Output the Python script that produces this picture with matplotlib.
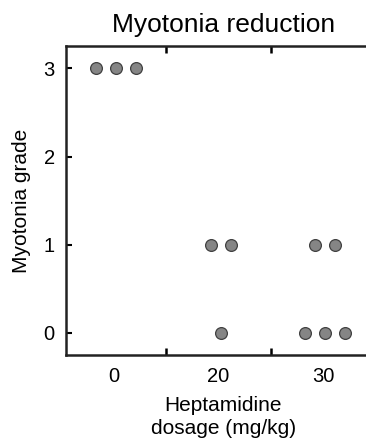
import matplotlib

matplotlib.use("Agg")

import matplotlib.pyplot as plt  # noqa: E402
import numpy as np  # noqa: E402

# dose groups and the myotonia grade of each animal in that group
doses = ["0", "20", "30"]
grades = [
    [3, 3, 3],
    [1, 1, 0],
    [1, 1, 0, 0, 0],
]

plt.rcParams["font.family"] = ["Liberation Sans", "DejaVu Sans"]

fig = plt.figure(figsize=(3.66, 4.38), dpi=100)
ax = fig.add_axes([0.180, 0.1895, 0.86, 0.7055])

# lay out repeated grades side by side, like a small swarm
spacing = 0.19
for i, g in enumerate(grades):
    g = np.array(g)
    for level in np.unique(g):
        n = int((g == level).sum())
        xs = i + 0.02 + (np.arange(n) - (n - 1) / 2) * spacing
        ax.scatter(xs, [level] * n, s=72, color="#858585", edgecolor="#404040",
                   linewidth=0.9, zorder=3, clip_on=False)

ax.set_xlim(-0.46, 2.55)
ax.set_ylim(-0.25, 3.253)
ax.set_xticks(range(len(doses)))
ax.set_xticklabels(doses)
ax.set_xticks([0.5, 1.5], minor=True)
ax.set_yticks([0, 1, 2, 3])
ax.tick_params(axis="x", which="major", length=0, pad=9, labelsize=14.5)
ax.tick_params(axis="x", which="minor", direction="in", length=5, width=1.8,
               top=True, bottom=True)
ax.tick_params(axis="y", direction="in", length=4, width=1.5, pad=8, labelsize=14.5)

for sp in ax.spines.values():
    sp.set_linewidth(1.8)
    sp.set_color("#222222")

ax.set_title("Myotonia reduction", fontsize=19, pad=10)
ax.set_xlabel("Heptamidine\ndosage (mg/kg)", fontsize=15, labelpad=7, linespacing=1.25)
ax.set_ylabel("Myotonia grade", fontsize=15, labelpad=9)

fig.savefig("out.png", dpi=100)
